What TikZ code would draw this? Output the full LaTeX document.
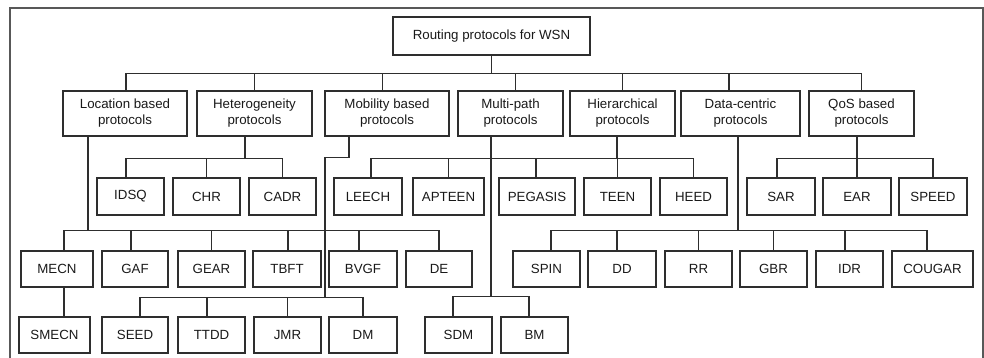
\documentclass[tikz,border=0pt]{standalone}
\usepackage{fontspec}
\setmainfont{Liberation Sans}
\definecolor{ln}{gray}{0.18}
\definecolor{txt}{gray}{0.1}
\tikzset{
  bx/.style={draw=ln, line width=1.2pt, inner sep=0pt, align=center,
    font=\fontsize{13.3}{16}\selectfont, text=txt},
  conn/.style={draw=ln, line width=1.1pt},
  frame/.style={draw=ln!80, line width=1.3pt}
}
\newcommand\pbox[6]{\node[bx, minimum width={#4-#2}, minimum height={#5-#3}] (#1) at ({(#2+#4)/2},{(#3+#5)/2}) {#6};}
\begin{document}
\begin{tikzpicture}[x=1pt,y=-1pt]
\useasboundingbox (0,0) rectangle (984,358);
\clip (0,0) rectangle (984,358);
\draw[frame] (10,380) -- (10,8) -- (983,8) -- (983,380);
% root
\pbox{root}{393}{17}{590}{55}{Routing protocols for WSN}
% level 1
\pbox{loc}{63}{91}{187}{136}{Location based\\protocols}
\pbox{het}{197}{91}{312}{136}{Heterogeneity\\protocols}
\pbox{mob}{325}{91}{449}{136}{Mobility based\\protocols}
\pbox{multi}{458}{91}{563}{136}{Multi-path\\protocols}
\pbox{hier}{570}{91}{675}{136}{Hierarchical\\protocols}
\pbox{data}{681}{91}{800}{136}{Data-centric\\protocols}
\pbox{qos}{809}{91}{914}{136}{QoS based\\protocols}
% row 2
\pbox{idsq}{97}{178}{164}{215}{IDSQ}
\pbox{chr}{173}{178}{240}{215}{CHR}
\pbox{cadr}{249}{178}{316}{215}{CADR}
\pbox{leech}{334}{178}{402}{215}{LEECH}
\pbox{apteen}{413}{178}{484}{215}{APTEEN}
\pbox{pegasis}{499}{178}{575}{215}{PEGASIS}
\pbox{teen}{584}{178}{651}{215}{TEEN}
\pbox{heed}{660}{178}{727}{215}{HEED}
\pbox{sar}{747}{178}{815}{215}{SAR}
\pbox{ear}{823}{178}{891}{215}{EAR}
\pbox{speed}{899}{178}{967}{215}{SPEED}
% row 3
\pbox{mecn}{21}{251}{93}{287}{MECN}
\pbox{gaf}{102}{251}{168}{287}{GAF}
\pbox{gear}{178}{251}{245}{287}{GEAR}
\pbox{tbft}{253}{251}{321}{287}{TBFT}
\pbox{bvgf}{329}{251}{397}{287}{BVGF}
\pbox{de}{406}{251}{472}{287}{DE}
\pbox{spin}{513}{251}{580}{287}{SPIN}
\pbox{dd}{588}{251}{656}{287}{DD}
\pbox{rr}{665}{251}{732}{287}{RR}
\pbox{gbr}{740}{251}{807}{287}{GBR}
\pbox{idr}{816}{251}{883}{287}{IDR}
\pbox{cougar}{892}{251}{973}{287}{COUGAR}
% row 4
\pbox{smecn}{19}{317}{90}{353}{SMECN}
\pbox{seed}{102}{317}{168}{353}{SEED}
\pbox{ttdd}{178}{317}{245}{353}{TTDD}
\pbox{jmr}{254}{317}{321}{353}{JMR}
\pbox{dm}{329}{317}{397}{353}{DM}
\pbox{sdm}{425}{317}{492}{353}{SDM}
\pbox{bm}{501}{317}{568}{353}{BM}
% root -> level 1
\draw[conn] (root.south) -- ++(0,18) -| ([xshift=1pt]loc.north);
\draw[conn] (root.south) -- ++(0,18) -| (het.north);
\draw[conn] (root.south) -- ++(0,18) -| ([xshift=-4.5pt]mob.north);
\draw[conn] (root.south) -- ++(0,18) -| ([xshift=5pt]multi.north);
\draw[conn] (root.south) -- ++(0,18) -| (hier.north);
\draw[conn] (root.south) -- ++(0,18) -| ([xshift=-11.5pt]data.north);
\draw[conn] (root.south) -- ++(0,18) -| (qos.north);
% heterogeneity
\draw[conn] ([xshift=-9.5pt]het.south) -- ++(0,22) -| ([xshift=-4.5pt]idsq.north);
\draw[conn] ([xshift=-9.5pt]het.south) -- ++(0,22) -| (chr.north);
\draw[conn] ([xshift=-9.5pt]het.south) -- ++(0,22) -| (cadr.north);
% hierarchical
\draw[conn] ([xshift=-5.5pt]hier.south) -- ++(0,22) -| ([xshift=3pt]leech.north);
\draw[conn] ([xshift=-5.5pt]hier.south) -- ++(0,22) -| (apteen.north);
\draw[conn] ([xshift=-5.5pt]hier.south) -- ++(0,22) -| ([xshift=-1pt]pegasis.north);
\draw[conn] ([xshift=-5.5pt]hier.south) -- ++(0,22) -| (teen.north);
\draw[conn] ([xshift=-5.5pt]hier.south) -- ++(0,22) -| (heed.north);
% qos
\draw[conn] ([xshift=-4.5pt]qos.south) -- ++(0,22) -| ([xshift=-4pt]sar.north);
\draw[conn] ([xshift=-4.5pt]qos.south) -- ++(0,22) -| (ear.north);
\draw[conn] ([xshift=-4.5pt]qos.south) -- ++(0,22) -| (speed.north);
% location
\draw[conn] ([xshift=-37pt]loc.south) -- ++(0,94) -| ([xshift=7pt]mecn.north);
\draw[conn] ([xshift=-37pt]loc.south) -- ++(0,94) -| ([xshift=-4pt]gaf.north);
\draw[conn] ([xshift=-37pt]loc.south) -- ++(0,94) -| (gear.north);
\draw[conn] ([xshift=-37pt]loc.south) -- ++(0,94) -| ([xshift=1pt]tbft.north);
\draw[conn] ([xshift=-37pt]loc.south) -- ++(0,94) -| ([xshift=-4pt]bvgf.north);
\draw[conn] ([xshift=-37pt]loc.south) -- ++(0,94) -| (de.north);
\draw[conn] ([xshift=7pt]mecn.south) -- ([xshift=9.5pt]smecn.north);
% data-centric
\draw[conn] ([xshift=-2.5pt]data.south) -- ++(0,94) -| ([xshift=4.5pt]spin.north);
\draw[conn] ([xshift=-2.5pt]data.south) -- ++(0,94) -| ([xshift=-5pt]dd.north);
\draw[conn] ([xshift=-2.5pt]data.south) -- ++(0,94) -| (rr.north);
\draw[conn] ([xshift=-2.5pt]data.south) -- ++(0,94) -| (gbr.north);
\draw[conn] ([xshift=-2.5pt]data.south) -- ++(0,94) -| ([xshift=-4.5pt]idr.north);
\draw[conn] ([xshift=-2.5pt]data.south) -- ++(0,94) -| ([xshift=-5.5pt]cougar.north);
% mobility
\draw[conn] ([xshift=-38pt]mob.south) |- ++(-24,21) -- ++(0,140) -| ([xshift=5pt]seed.north);
\draw[conn] ([xshift=-38pt]mob.south) |- ++(-24,21) -- ++(0,140) -| ([xshift=-4.5pt]ttdd.north);
\draw[conn] ([xshift=-38pt]mob.south) |- ++(-24,21) -- ++(0,140) -| (jmr.north);
\draw[conn] ([xshift=-38pt]mob.south) |- ++(-24,21) -- ++(0,140) -| (dm.north);
% multi-path
\draw[conn] ([xshift=-19.5pt]multi.south) -- ++(0,160) -| ([xshift=-5.5pt]sdm.north);
\draw[conn] ([xshift=-19.5pt]multi.south) -- ++(0,160) -| ([xshift=-5.5pt]bm.north);
\end{tikzpicture}
\end{document}
